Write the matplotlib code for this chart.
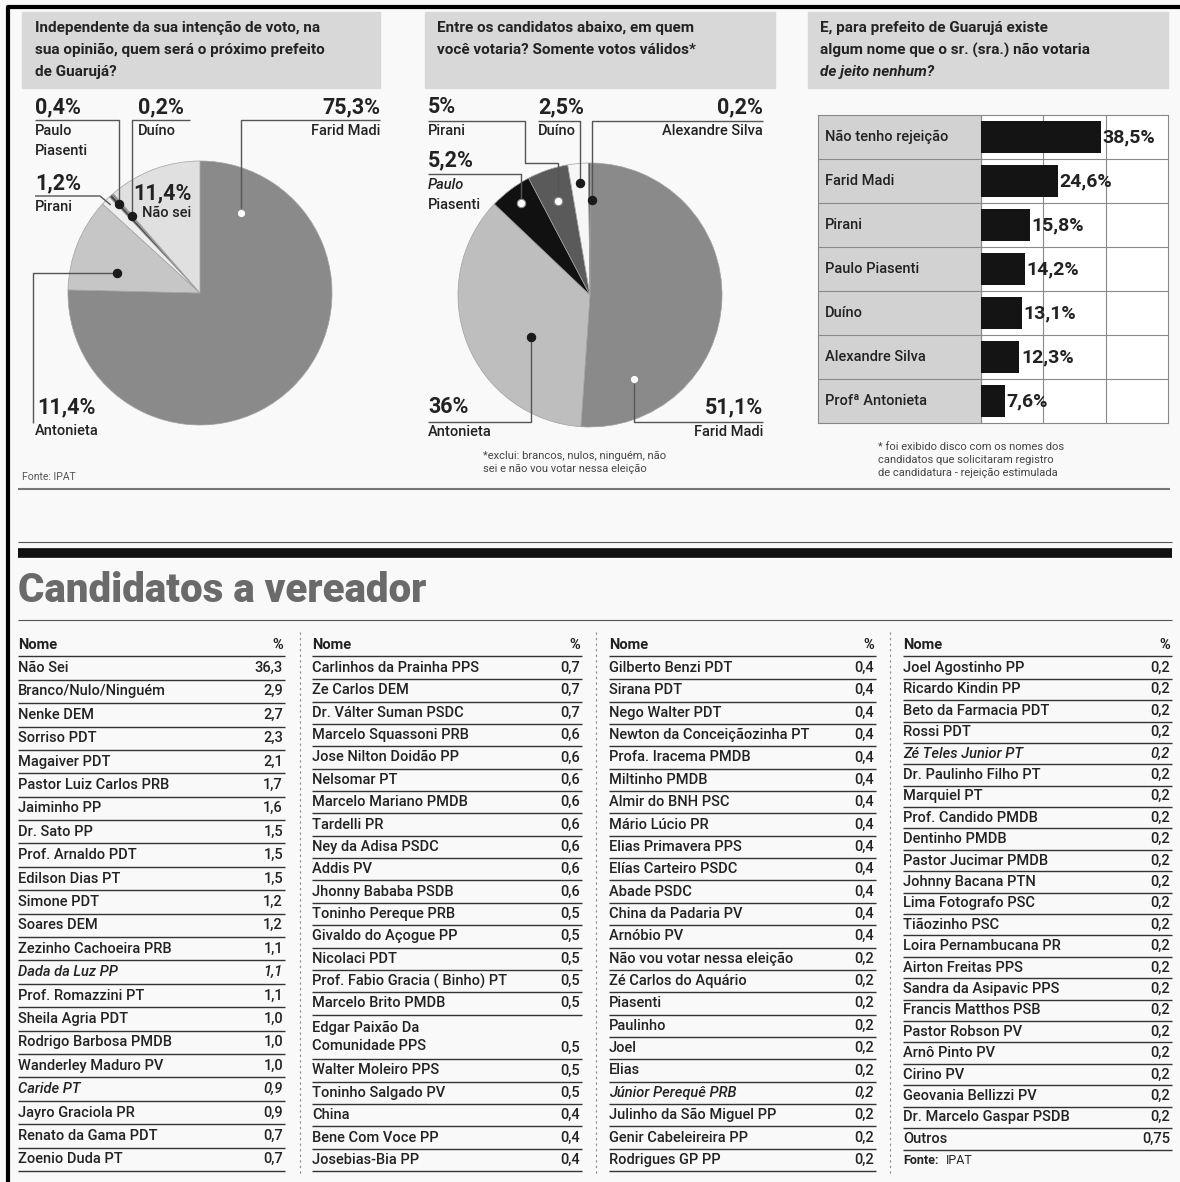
import matplotlib
matplotlib.use('Agg')
import matplotlib.pyplot as plt
import numpy as np

plt.rcParams['font.family'] = ['Roboto', 'DejaVu Sans']

W, H = 1180, 1182
INK = '#222222'
LINE = '#555555'

# --- data: panel 1 (quem sera o proximo prefeito)
p1_names = ['Farid Madi', 'Antonieta', 'Pirani', 'Paulo Piasenti', 'Duíno', 'Não sei']
p1_vals = [75.3, 11.4, 1.2, 0.4, 0.2, 11.4]
p1_colors = ['#8a8a8a', '#c6c6c6', '#eeeeee', '#4a4a4a', '#7a7a7a', '#e0e0e0']

# --- data: panel 2 (votos validos)
p2_names = ['Farid Madi', 'Antonieta', 'Paulo Piasenti', 'Pirani', 'Duíno', 'Alexandre Silva']
p2_vals = [51.1, 36.0, 5.2, 5.0, 2.5, 0.2]
p2_colors = ['#8a8a8a', '#bebebe', '#111111', '#5a5a5a', '#f6f6f6', '#333333']

# --- data: panel 3 (rejeicao)
rej_names = ['Não tenho rejeição', 'Farid Madi', 'Pirani', 'Paulo Piasenti', 'Duíno',
             'Alexandre Silva', 'Profª Antonieta']
rej_vals = [38.5, 24.6, 15.8, 14.2, 13.1, 12.3, 7.6]

# --- data: candidatos a vereador
col1_names = ['Não Sei', 'Branco/Nulo/Ninguém', 'Nenke DEM', 'Sorriso PDT', 'Magaiver PDT',
              'Pastor Luiz Carlos PRB', 'Jaiminho PP', 'Dr. Sato PP', 'Prof. Arnaldo PDT',
              'Edilson Dias PT', 'Simone PDT', 'Soares DEM', 'Zezinho Cachoeira PRB',
              'Dada da Luz PP', 'Prof. Romazzini PT', 'Sheila Agria PDT', 'Rodrigo Barbosa PMDB',
              'Wanderley Maduro PV', 'Caride PT', 'Jayro Graciola PR', 'Renato da Gama PDT',
              'Zoenio Duda PT']
col1_vals = [36.3, 2.9, 2.7, 2.3, 2.1, 1.7, 1.6, 1.5, 1.5, 1.5, 1.2, 1.2, 1.1, 1.1, 1.1,
             1.0, 1.0, 1.0, 0.9, 0.9, 0.7, 0.7]

col2_names = ['Carlinhos da Prainha PPS', 'Ze Carlos DEM', 'Dr. Válter Suman PSDC',
              'Marcelo Squassoni PRB', 'Jose Nilton Doidão PP', 'Nelsomar PT',
              'Marcelo Mariano PMDB', 'Tardelli PR', 'Ney da Adisa PSDC', 'Addis PV',
              'Jhonny Bababa PSDB', 'Toninho Pereque PRB', 'Givaldo do Açogue PP', 'Nicolaci PDT',
              'Prof. Fabio Gracia ( Binho) PT', 'Marcelo Brito PMDB', 'Edgar Paixão Da\nComunidade PPS',
              'Walter Moleiro PPS', 'Toninho Salgado PV', 'China', 'Bene Com Voce PP', 'Josebias-Bia PP']
col2_vals = [0.7, 0.7, 0.7, 0.6, 0.6, 0.6, 0.6, 0.6, 0.6, 0.6, 0.6, 0.5, 0.5, 0.5, 0.5,
             0.5, 0.5, 0.5, 0.5, 0.4, 0.4, 0.4]

col3_names = ['Gilberto Benzi PDT', 'Sirana PDT', 'Nego Walter PDT', 'Newton da Conceiçãozinha PT',
              'Profa. Iracema PMDB', 'Miltinho PMDB', 'Almir do BNH PSC', 'Mário Lúcio PR',
              'Elias Primavera PPS', 'Elías Carteiro PSDC', 'Abade PSDC', 'China da Padaria PV',
              'Arnóbio PV', 'Não vou votar nessa eleição', 'Zé Carlos do Aquário', 'Piasenti',
              'Paulinho', 'Joel', 'Elias', 'Júnior Perequê PRB', 'Julinho da São Miguel PP',
              'Genir Cabeleireira PP', 'Rodrigues GP PP']
col3_vals = [0.4] * 13 + [0.2] * 10

col4_names = ['Joel Agostinho PP', 'Ricardo Kindin PP', 'Beto da Farmacia PDT', 'Rossi PDT',
              'Zé Teles Junior PT', 'Dr. Paulinho Filho PT', 'Marquiel PT', 'Prof. Candido PMDB',
              'Dentinho PMDB', 'Pastor Jucimar PMDB', 'Johnny Bacana PTN', 'Lima Fotografo PSC',
              'Tiãozinho PSC', 'Loira Pernambucana PR', 'Airton Freitas PPS', 'Sandra da Asipavic PPS',
              'Francis Matthos PSB', 'Pastor Robson PV', 'Arnô Pinto PV', 'Cirino PV',
              'Geovania Bellizzi PV', 'Dr. Marcelo Gaspar PSDB', 'Outros']
col4_vals = [0.2] * 22 + [0.75]

italic_names = ['Dada da Luz PP', 'Caride PT', 'Júnior Perequê PRB', 'Zé Teles Junior PT']


def fmt(v):
    s = '%.1f' % v if round(v, 1) == v else '%.2f' % v
    return s.replace('.', ',')


def pct(v):
    s = fmt(v)
    if s.endswith(',0'):
        s = s[:-2]
    return s + '%'


fig = plt.figure(figsize=(11.8, 11.82), dpi=100, facecolor='#f9f9f9')

bg = fig.add_axes([0, 0, 1, 1])
bg.set_xlim(0, W)
bg.set_ylim(H, 0)
bg.axis('off')
bg.set_zorder(10)
bg.patch.set_alpha(0)


def line(pts, **kw):
    xs, ys = zip(*pts)
    kw.setdefault('color', LINE)
    kw.setdefault('lw', 1.0)
    bg.plot(xs, ys, solid_capstyle='butt', **kw)


def txt(x, y, s, size=10.5, weight=500, ha='left', style='normal', color=INK, **kw):
    bg.text(x, y, s, fontsize=size, fontweight=weight, ha=ha, va='center',
            style=style, color=color, **kw)


# frame
line([(8, H), (8, 7), (W, 7)], color='black', lw=3)

# title boxes
for x0, x1 in [(22, 380), (425, 775), (808, 1168)]:
    bg.add_patch(plt.Rectangle((x0, 12), x1 - x0, 76, color='#d8d8d8', zorder=0))

t1 = ['Independente da sua intenção de voto, na', 'sua opinião, quem será o próximo prefeito',
      'de Guarujá?']
t2 = ['Entre os candidatos abaixo, em quem', 'você votaria? Somente votos válidos*']
t3 = ['E, para prefeito de Guarujá existe', 'algum nome que o sr. (sra.) não votaria']
for i, s in enumerate(t1):
    txt(35, 28 + 22 * i, s, size=11, weight='bold')
for i, s in enumerate(t2):
    txt(437, 28 + 22 * i, s, size=11, weight='bold')
for i, s in enumerate(t3):
    txt(820, 28 + 22 * i, s, size=11, weight='bold')
txt(820, 72, 'de jeito nenhum?', size=11, weight='bold', style='italic')


def pie_axes(cx, cy, R, vals, colors):
    ax = fig.add_axes([(cx - R) / W, 1 - (cy + R) / H, 2 * R / W, 2 * R / H])
    ax.pie(vals, colors=colors, startangle=90, counterclock=False,
           wedgeprops=dict(edgecolor='#a0a0a0', linewidth=0.5))
    ax.set_xlim(-1, 1)
    ax.set_ylim(-1, 1)
    total = float(sum(vals))
    cum = np.concatenate([[0], np.cumsum(vals)]) / total

    def spot(i, t, r):
        a1 = 90 - 360 * cum[i]
        a2 = 90 - 360 * cum[i + 1]
        a = np.radians(a1 + t * (a2 - a1))
        return cx + R * r * np.cos(a), cy - R * r * np.sin(a)
    return spot


def dot(p, white=False):
    bg.plot([p[0]], [p[1]], 'o', ms=6, mfc='white' if white else '#1a1a1a',
            mec='#1a1a1a' if not white else '#888888', mew=0.8, zorder=12)


# --- pie 1
spot1 = pie_axes(200, 293, 132, p1_vals, p1_colors)
d_far = spot1(0, 0.1, 0.68)
d_ant = spot1(1, 0.3, 0.65)
d_pir = spot1(2, 0.5, 0.95)
d_pau = spot1(3, 0.5, 0.91)
d_dui = spot1(4, 0.5, 0.78)

line([(35, 120), (d_pau[0], 120), d_pau])
line([(190, 120), (d_dui[0], 120), d_dui])
line([(380, 120), (d_far[0], 120), d_far])
line([(35, 196), (100, 196), d_pir])
line([d_ant, (33, d_ant[1]), (33, 423)])
dot(d_far, white=True)
dot(d_ant)
dot(d_pau)
dot(d_dui)

txt(35, 107, pct(p1_vals[3]), size=15.5, weight='bold')
txt(35, 131, 'Paulo')
txt(35, 151, 'Piasenti')
txt(138, 107, pct(p1_vals[4]), size=15.5, weight='bold')
txt(138, 131, p1_names[4])
txt(380, 107, pct(p1_vals[0]), size=15.5, weight='bold', ha='right')
txt(380, 131, p1_names[0], ha='right')
txt(35, 183, pct(p1_vals[2]), size=15.5, weight='bold')
txt(35, 207, p1_names[2])
txt(133, 193, pct(p1_vals[5]), size=15.5, weight='bold')
txt(142, 213, p1_names[5])
txt(37, 407, pct(p1_vals[1]), size=15.5, weight='bold')
txt(35, 431, p1_names[1])
txt(22, 477, 'Fonte: IPAT', size=7.5, color='#555555', weight='normal')

# --- pie 2
spot2 = pie_axes(590, 295, 132, p2_vals, p2_colors)
e_far = spot2(0, 0.83, 0.72)
e_ant = spot2(1, 0.39, 0.55)
e_pau = spot2(2, 0.5, 0.87)
e_pir = spot2(3, 0.5, 0.75)
e_dui = spot2(4, 0.5, 0.85)
e_ale = spot2(5, 0.5, 0.72)

line([(428, 121), (525, 121), (525, 163), (e_pir[0], 163), e_pir])
line([(538, 121), (e_dui[0], 121), e_dui])
line([(763, 121), (e_ale[0] + 3, 121), (e_ale[0] + 3, e_ale[1])])
line([(428, 174), (e_pau[0], 174), e_pau])
line([e_ant, (e_ant[0], 422), (428, 422)])
line([e_far, (e_far[0], 422), (763, 422)])
dot(e_far, white=True)
dot(e_ant)
dot(e_pau, white=True)
dot(e_pir, white=True)
dot(e_dui)
dot((e_ale[0] + 3, e_ale[1]))

txt(428, 107, pct(p2_vals[3]), size=15.5, weight='bold')
txt(428, 131, p2_names[3])
txt(538, 107, pct(p2_vals[4]), size=15.5, weight='bold')
txt(538, 131, p2_names[4])
txt(763, 107, pct(p2_vals[5]), size=15.5, weight='bold', ha='right')
txt(763, 131, p2_names[5], ha='right')
txt(428, 160, pct(p2_vals[2]), size=15.5, weight='bold')
txt(428, 185, 'Paulo', style='italic')
txt(428, 205, 'Piasenti')
txt(428, 407, pct(p2_vals[1]), size=15.5, weight='bold')
txt(428, 432, p2_names[1])
txt(763, 407, pct(p2_vals[0]), size=15.5, weight='bold', ha='right')
txt(763, 432, p2_names[0], ha='right')
txt(483, 456, '*exclui: brancos, nulos, ninguém, não', size=8, color='#444444', weight='normal')
txt(483, 469, 'sei e não vou votar nessa eleição', size=8, color='#444444', weight='normal')

# --- panel 3 bars
bx0, bx1, by0, by1 = 818, 1168, 115, 423
lab_w = 52.3
bax = fig.add_axes([bx0 / W, 1 - by1 / H, (bx1 - bx0) / W, (by1 - by0) / H])
bax.set_xlim(-lab_w, 60)
bax.set_ylim(len(rej_vals) - 0.5, -0.5)
bax.axvspan(-lab_w, 0, color='#d2d2d2', zorder=0)
bax.barh(np.arange(len(rej_vals)), rej_vals, height=0.72, color='#141414', zorder=3)
for x in [0, 20, 40]:
    bax.axvline(x, color='#888888', lw=0.8, zorder=1)
for i in range(len(rej_vals) - 1):
    bax.axhline(i + 0.5, color='#8a8a8a', lw=0.8, zorder=1)
for i, (n, v) in enumerate(zip(rej_names, rej_vals)):
    bax.text(-lab_w + 2.2, i, n, fontsize=10.5, fontweight=500, va='center', ha='left',
             color=INK)
    bax.text(v + 0.5, i, pct(v), fontsize=14, fontweight='bold', va='center',
             ha='left', color=INK, zorder=4)
bax.set_xticks([])
bax.set_yticks([])
for s in bax.spines.values():
    s.set_color('#888888')
    s.set_linewidth(0.8)

txt(878, 447, '* foi exibido disco com os nomes dos', size=8, color='#444444', weight='normal')
txt(878, 460, 'candidatos que solicitaram registro', size=8, color='#444444', weight='normal')
txt(878, 473, 'de candidatura - rejeição estimulada', size=8, color='#444444', weight='normal')

# --- separators
line([(18, 489), (1170, 489)], color='#777777', lw=1.5)
line([(18, 542), (1172, 542)], color='#555555', lw=0.8)
line([(18, 553), (1172, 553)], color='#111111', lw=7)
txt(18, 591, 'Candidatos a vereador', size=29, weight='heavy', color='#6a6a6a')
line([(18, 620), (1172, 620)], color='#555555', lw=0.8)

for x in [300, 596, 890]:
    bg.plot([x, x], [632, 1175], color='#888888', lw=0.8, ls=(0, (2, 3)))


def draw_column(x0, x1, names, vals, step, y0=668):
    txt(x0, 645, 'Nome', weight='bold', size=10.5)
    txt(x1 - 2, 645, '%', weight='bold', size=10.5, ha='right')
    line([(x0, y0 - 12), (x1, y0 - 12)], color='#333333', lw=1.0)
    y = y0
    for n, v in zip(names, vals):
        k = n.count('\n') + 1
        st = 'italic' if n in italic_names else 'normal'
        last = y + (k - 1) * step
        bg.text(x0, (y + last) / 2, n, fontsize=10.5, fontweight=500, va='center',
                ha='left', color=INK, style=st, linespacing=1.35)
        txt(x1 - 2, last, fmt(v), ha='right', style=st)
        line([(x0, last + step / 2), (x1, last + step / 2)], color='#333333', lw=1.0)
        y = last + step
    return y


draw_column(18, 285, col1_names, col1_vals, 23.4)
draw_column(312, 582, col2_names, col2_vals, 22.36)
draw_column(609, 876, col3_names, col3_vals, 22.36)
yf = draw_column(903, 1172, col4_names, col4_vals, 21.4)
txt(903, yf, 'Fonte:', weight='bold', size=9)
txt(946, yf, 'IPAT', size=9, weight='normal')

fig.savefig('out.png', dpi=100, facecolor=fig.get_facecolor())
